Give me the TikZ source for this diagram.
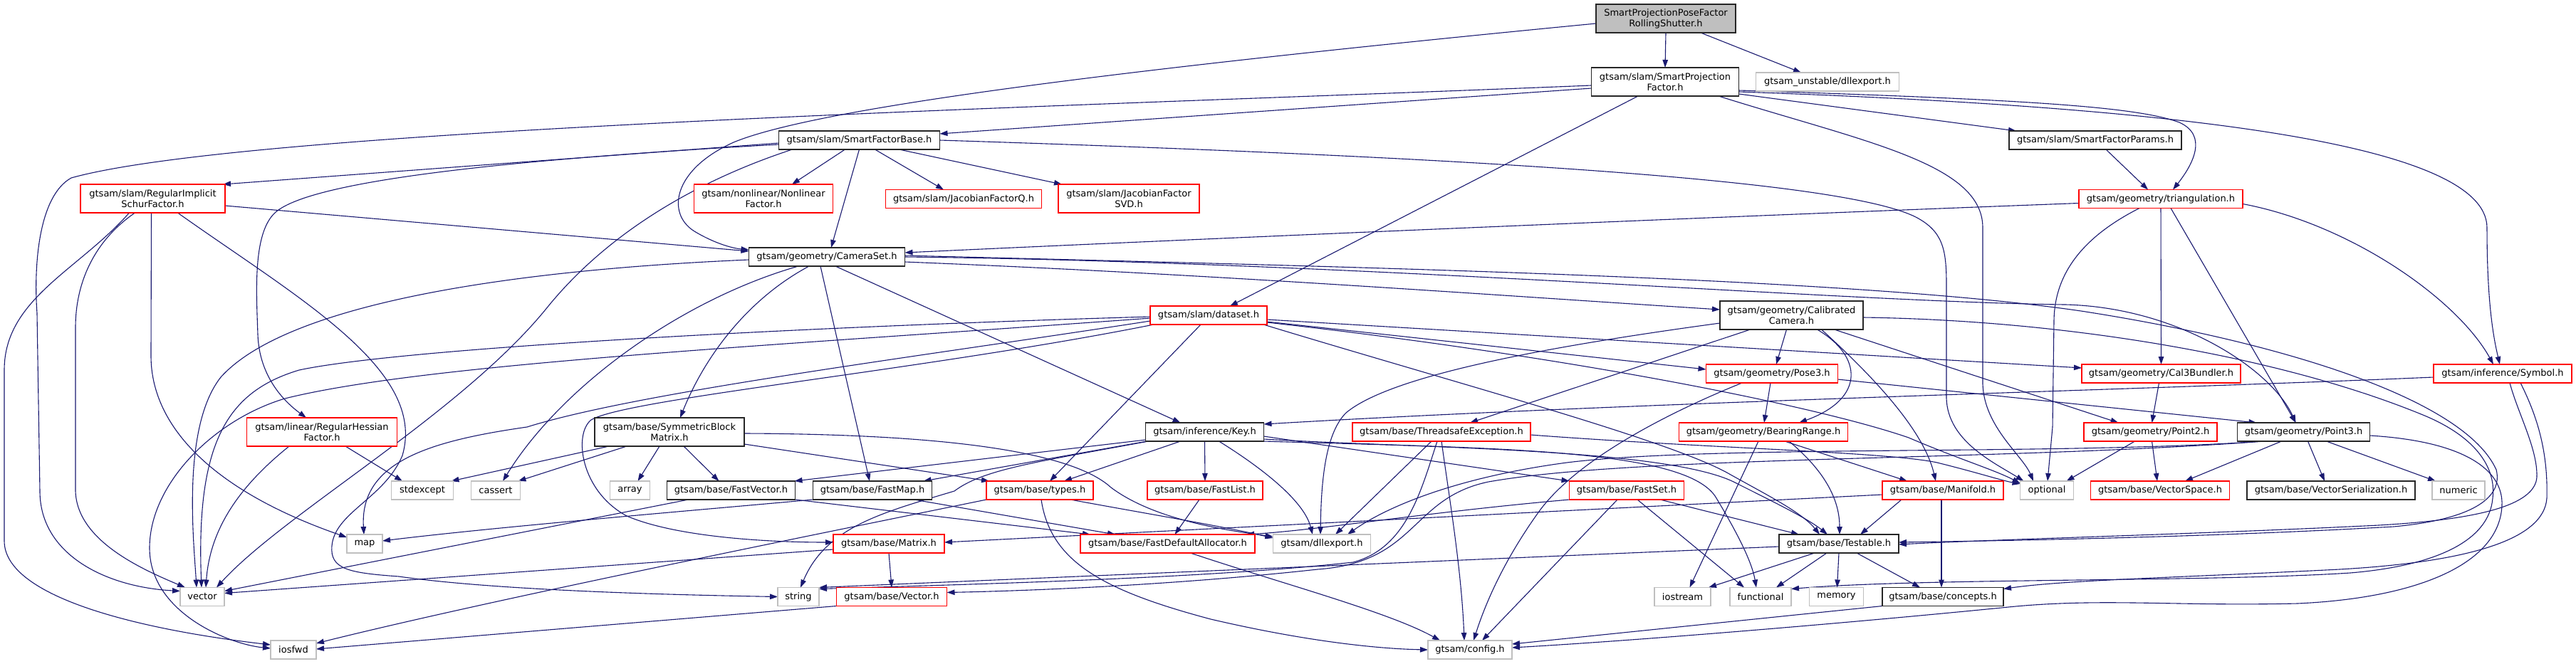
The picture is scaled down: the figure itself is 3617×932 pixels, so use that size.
\documentclass[tikz,border=0pt]{standalone}
\usepackage{fontspec}
\setmainfont{DejaVu Sans}
\usetikzlibrary{arrows.meta}
\definecolor{edgeblue}{HTML}{191970}
\definecolor{nodered}{HTML}{FF0000}
\definecolor{nodegray}{HTML}{BFBFBF}
\definecolor{topfill}{HTML}{BFBFBF}
\pgfdeclarelayer{bg}
\pgfsetlayers{bg,main}
\newcommand{\nodefont}{\fontsize{13pt}{15pt}\selectfont}
\begin{document}
\begin{tikzpicture}[x=1pt,y=-1pt,
  nd/.style={draw, line width=1.2pt, minimum height=26pt, inner xsep=8pt, inner ysep=0pt, outer sep=0pt, fill=white, font=\nodefont, text=black},
  two/.style={minimum height=40pt, align=center},
  nb/.style={nd, draw=black!85},
  nr/.style={nd, draw=nodered},
  ng/.style={nd, draw=nodegray},
  edg/.style={draw=edgeblue, line width=1.1pt, -{Triangle[length=11pt,width=7.5pt]}}]
\useasboundingbox (0,0) rectangle (3617,932);
% nodes
\node[nb,fill=topfill,two,minimum width=196pt] (top) at (2339,26) {SmartProjectionPoseFactor\\RollingShutter.h};
\node[nb,two,minimum width=207pt] (spf) at (2338,115) {gtsam/slam/SmartProjection\\Factor.h};
\node[ng,minimum width=201pt] (udll) at (2566,115) {gtsam\_unstable/dllexport.h};
\node[nb,minimum width=226pt] (sfb) at (1206.5,197) {gtsam/slam/SmartFactorBase.h};
\node[nb,minimum width=242pt] (sfp) at (2942,197) {gtsam/slam/SmartFactorParams.h};
\node[nr,two,minimum width=203pt] (risf) at (214.5,279) {gtsam/slam/RegularImplicit\\SchurFactor.h};
\node[nr,two,minimum width=195pt] (nlf) at (1072,279) {gtsam/nonlinear/Nonlinear\\Factor.h};
\node[nr,minimum width=219pt] (jfq) at (1353,279.5) {gtsam/slam/JacobianFactorQ.h};
\node[nr,two,minimum width=198pt] (jfsvd) at (1585,279) {gtsam/slam/JacobianFactor\\SVD.h};
\node[nr,minimum width=230pt] (tri) at (3034,279.5) {gtsam/geometry/triangulation.h};
\node[nb,minimum width=219pt] (cams) at (1161,361) {gtsam/geometry/CameraSet.h};
\node[nr,minimum width=164pt] (dataset) at (1697,443) {gtsam/slam/dataset.h};
\node[nb,two,minimum width=201pt] (calcam) at (2515.5,443) {gtsam/geometry/Calibrated\\Camera.h};
\node[nr,minimum width=185pt] (pose3) at (2488,525) {gtsam/geometry/Pose3.h};
\node[nr,minimum width=223pt] (cal3) at (3034.5,525) {gtsam/geometry/Cal3Bundler.h};
\node[nr,minimum width=194pt] (symbol) at (3514,525) {gtsam/inference/Symbol.h};
\node[nr,two,minimum width=211pt] (rhf) at (452,607) {gtsam/linear/RegularHessian\\Factor.h};
\node[nb,two,minimum width=210pt] (sbm) at (940,607) {gtsam/base/SymmetricBlock\\Matrix.h};
\node[nb,minimum width=166pt] (key) at (1691.5,607) {gtsam/inference/Key.h};
\node[nr,minimum width=250pt] (tse) at (2024,607) {gtsam/base/ThreadsafeException.h};
\node[nr,minimum width=237pt] (bear) at (2476,607) {gtsam/geometry/BearingRange.h};
\node[nr,minimum width=187pt] (pt2) at (3019.5,607) {gtsam/geometry/Point2.h};
\node[nb,minimum width=186pt] (pt3) at (3234.5,607) {gtsam/geometry/Point3.h};
\node[ng,minimum width=87pt] (stdexcept) at (593,689) {stdexcept};
\node[ng,minimum width=69pt] (cassert) at (696,689) {cassert};
\node[ng,minimum width=56pt] (array) at (884.5,689) {array};
\node[nb,minimum width=180pt] (fvec) at (1026.5,689) {gtsam/base/FastVector.h};
\node[nb,minimum width=167pt] (fmap) at (1225,689) {gtsam/base/FastMap.h};
\node[nr,minimum width=150pt] (types) at (1460,689) {gtsam/base/types.h};
\node[nr,minimum width=162pt] (flist) at (1692,689) {gtsam/base/FastList.h};
\node[nr,minimum width=161pt] (fset) at (2284,689) {gtsam/base/FastSet.h};
\node[nr,minimum width=170pt] (manifold) at (2728,689) {gtsam/base/Manifold.h};
\node[ng,minimum width=75pt] (optional) at (2874,689) {optional};
\node[nr,minimum width=195pt] (vspace) at (3033,689) {gtsam/base/VectorSpace.h};
\node[nb,minimum width=236pt] (vser) at (3273,689) {gtsam/base/VectorSerialization.h};
\node[ng,minimum width=74pt] (numeric) at (3452,689) {numeric};
\node[ng,minimum width=50pt] (map) at (512,764) {map};
\node[nr,minimum width=156pt] (matrix) at (1248,764) {gtsam/base/Matrix.h};
\node[nr,minimum width=245pt] (fda) at (1639.5,764) {gtsam/base/FastDefaultAllocator.h};
\node[ng,minimum width=137pt] (dll) at (1856,764) {gtsam/dllexport.h};
\node[nb,minimum width=168pt] (testable) at (2582,764) {gtsam/base/Testable.h};
\node[ng,minimum width=62pt] (vector) at (284,838.5) {vector};
\node[ng,minimum width=58pt] (string) at (1121,838.5) {string};
\node[nr,minimum width=155pt] (vecH) at (1252,838.5) {gtsam/base/Vector.h};
\node[ng,minimum width=79pt] (iostream) at (2362.5,838.5) {iostream};
\node[ng,minimum width=86pt] (functional) at (2472,838.5) {functional};
\node[ng,minimum width=76pt] (memory) at (2578.5,838.5) {memory};
\node[nb,minimum width=170pt] (concepts) at (2728,838.5) {gtsam/base/concepts.h};
\node[ng,minimum width=64pt] (iosfwd) at (412,913) {iosfwd};
\node[ng,minimum width=118pt] (config) at (2064,913) {gtsam/config.h};
% edges
\begin{pgfonlayer}{bg}
% top
\draw[edg] (top.south) -- (spf.north);
\draw[edg] ([xshift=49pt]top.south) -- ([xshift=-37pt]udll.north);
\draw[edg] ([yshift=-7pt]top.west) .. controls (1600,95) and (1150,150) .. (1030,200) .. controls (945,238) and (935,300) .. (975,325) .. controls (1005,343) and (1030,349) .. ([yshift=10pt]cams.west);
% spf
\draw[edg] ([yshift=-9pt]spf.west) -- ([yshift=9pt]sfb.east);
\draw[edg] ([yshift=-17pt]spf.east) -- ([xshift=10pt]sfp.north west);
\draw[edg] ([yshift=-12pt]spf.east) .. controls (2850,140) and (3000,150) .. (3060,172) .. controls (3100,190) and (3080,230) .. ([xshift=17pt]tri.north);
\draw[edg] ([yshift=-14pt]spf.east) .. controls (3050,150) and (3492,200) .. (3492,320) .. controls (3492,420) and (3500,470) .. ([xshift=-4pt]symbol.north);
\draw[edg] ([xshift=-38pt]spf.south) -- ([xshift=30pt]dataset.north);
\draw[edg] ([xshift=75pt]spf.south) .. controls (2620,200) and (2784,230) .. (2784,320) -- (2784,540) .. controls (2786,600) and (2840,640) .. ([xshift=-19pt]optional.north);
\draw[edg] ([yshift=-5pt]spf.west) .. controls (1500,150) and (350,180) .. (100,250) .. controls (55,275) and (47,370) .. (52,440) -- (56,690) .. controls (56,780) and (150,825) .. ([yshift=8pt]vector.west);
% sfb
\draw[edg] ([xshift=22pt]sfb.south) -- ([xshift=-28pt]jfq.north);
\draw[edg] ([xshift=-20pt]sfb.south) -- ([xshift=40pt]nlf.north);
\draw[edg] ([xshift=56pt]sfb.south) -- ([xshift=-94pt]jfsvd.north);
\draw[edg] ([yshift=-4pt]sfb.west) -- ([xshift=-3pt]risf.north east);
\draw[edg] ([yshift=-6pt]sfb.west) .. controls (700,225) and (430,255) .. (385,300) .. controls (355,330) and (360,410) .. (362,470) .. controls (364,530) and (400,565) .. ([xshift=-22pt]rhf.north);
\draw[edg] (sfb.south) -- ([xshift=6pt]cams.north);
\draw[edg] ([xshift=-94pt]sfb.south) .. controls (990,250) and (860,320) .. (770,430) .. controls (650,580) and (400,720) .. ([xshift=20pt]vector.north);
\draw[edg] (sfb.east) .. controls (2200,225) and (2600,260) .. (2690,305) .. controls (2728,325) and (2733,350) .. (2733,400) -- (2733,560) .. controls (2735,620) and (2800,650) .. ([xshift=5pt]optional.north west);
% sfp
\draw[edg] ([xshift=15pt]sfp.south) -- ([xshift=-18pt]tri.north);
% risf
\draw[edg] ([yshift=-10pt]risf.east) -- ([yshift=8pt]cams.west);
\draw[edg] ([xshift=-33pt]risf.south) .. controls (110,380) and (6,420) .. (6,520) -- (6,760) .. controls (6,840) and (200,885) .. ([yshift=7pt]iosfwd.west);
\draw[edg] ([xshift=-25pt]risf.south) .. controls (130,340) and (106,400) .. (106,460) -- (106,690) .. controls (108,760) and (200,800) .. ([xshift=-24pt]vector.north);
\draw[edg] ([xshift=-2pt]risf.south) -- (212,500) .. controls (212,600) and (300,690) .. ([yshift=9pt]map.west);
\draw[edg] ([xshift=35pt]risf.south) .. controls (420,420) and (600,520) .. (565,640) .. controls (540,700) and (470,720) .. (466,767) .. controls (463,800) and (490,805) .. (560,810) .. controls (700,830) and (950,836) .. (string.west);
% tri
\draw[edg] ([yshift=-6pt]tri.west) .. controls (2400,305) and (1700,335) .. ([yshift=6pt]cams.east);
\draw[edg] ([yshift=-7pt]tri.east) .. controls (3300,315) and (3450,420) .. ([xshift=-13pt]symbol.north);
\draw[edg] ([xshift=-30pt]tri.south) .. controls (2930,330) and (2885,380) .. (2884,450) -- (2882,600) -- ([xshift=1pt]optional.north);
\draw[edg] (tri.south) -- (cal3.north);
\draw[edg] ([xshift=14pt]tri.south) -- ([xshift=-11pt]pt3.north);
% cams
\draw[edg] ([yshift=-7pt]cams.east) .. controls (1700,385) and (2100,415) .. ([yshift=8pt]calcam.west);
\draw[edg] ([xshift=-25pt]cams.south) .. controls (1050,420) and (990,500) .. ([xshift=15pt]sbm.north);
\draw[edg] ([xshift=-9pt]cams.south) -- ([xshift=-4pt]fmap.north);
\draw[edg] ([xshift=12pt]cams.south) -- ([xshift=-34pt]key.north);
\draw[edg] ([yshift=-4pt]cams.west) .. controls (700,380) and (400,430) .. (310,530) .. controls (255,600) and (272,760) .. ([xshift=-8pt]vector.north);
\draw[edg] ([xshift=-40pt]cams.south) .. controls (960,420) and (790,540) .. ([xshift=10pt]cassert.north);
\draw[edg] ([yshift=2pt]cams.east) .. controls (1900,375) and (2600,390) .. (2922,437) .. controls (3200,480) and (3460,560) .. (3505,660) .. controls (3515,700) and (3470,730) .. (3361,740) .. controls (3100,755) and (2800,760) .. ([yshift=2pt]testable.east);
\draw[edg] (cams.east) .. controls (1900,368) and (2600,425) .. (2900,428) .. controls (3060,432) and (3190,520) .. ([xshift=-11pt]pt3.north);
% dataset
\draw[edg] ([yshift=-9pt]dataset.east) -- ([yshift=6pt]pose3.west);
\draw[edg] ([yshift=-6pt]dataset.east) -- ([yshift=8pt]cal3.west);
\draw[edg] ([xshift=-11pt]dataset.south) -- ([xshift=14pt]types.north);
\draw[edg] ([xshift=-5pt]dataset.south east) .. controls (2050,540) and (2350,620) .. (2430,667) .. controls (2480,695) and (2530,720) .. ([xshift=-27pt]testable.north);
\draw[edg] ([yshift=-2pt]dataset.west) .. controls (1100,460) and (560,490) .. (420,520) .. controls (320,550) and (275,620) .. ([xshift=-1pt]vector.north);
\draw[edg] ([yshift=-4pt]dataset.west) .. controls (1100,485) and (600,510) .. (400,560) .. controls (300,590) and (210,680) .. (210,770) .. controls (210,860) and (320,905) .. ([yshift=2pt]iosfwd.west);
\draw[edg] ([yshift=-8pt]dataset.west) .. controls (1300,500) and (900,550) .. (740,600) .. controls (600,620) and (505,650) .. ([xshift=-1pt]map.north);
\draw[edg] ([xshift=5pt]dataset.south west) .. controls (1300,520) and (880,560) .. (830,590) .. controls (805,610) and (815,690) .. (880,725) .. controls (950,755) and (1080,762) .. ([yshift=2pt]matrix.west);
\draw[edg] ([yshift=-10pt]dataset.east) .. controls (2200,500) and (2550,570) .. (2680,615) .. controls (2750,645) and (2800,660) .. ([yshift=-3pt]optional.north west);
% calcam
\draw[edg] ([xshift=-7pt]calcam.south) -- ([xshift=6pt]pose3.north);
\draw[edg] ([xshift=-58pt]calcam.south) -- ([xshift=40pt]tse.north);
\draw[edg] ([xshift=36pt]calcam.south) .. controls (2615,500) and (2620,560) .. ([xshift=50pt]bear.north);
\draw[edg] ([xshift=60pt]calcam.south) -- ([xshift=-45pt]pt2.north);
\draw[edg] ([xshift=42pt]calcam.south) .. controls (2620,520) and (2700,600) .. ([xshift=-10pt]manifold.north);
\draw[edg] ([yshift=-11pt]calcam.west) .. controls (2150,490) and (1950,530) .. (1890,580) .. controls (1860,610) and (1855,680) .. ([xshift=-2pt]dll.north);
\draw[edg] ([yshift=-3pt]calcam.east) .. controls (2900,450) and (3200,500) .. (3402,583) .. controls (3480,615) and (3505,660) .. (3500,700) .. controls (3495,760) and (3420,795) .. (3300,805) .. controls (3100,818) and (2700,812) .. ([yshift=11pt]functional.east);
% pose3
\draw[edg] ([xshift=-2pt]pose3.south) -- ([xshift=1pt]bear.north);
\draw[edg] ([yshift=-8pt]pose3.east) -- ([xshift=-66pt]pt3.north);
\draw[edg] ([xshift=-42pt]pose3.south) .. controls (2330,585) and (2210,650) .. (2160,720) .. controls (2110,790) and (2085,850) .. ([xshift=5pt]config.north);
% cal3
\draw[edg] ([xshift=-3pt]cal3.south) -- ([xshift=2pt]pt2.north);
% symbol
\draw[edg] ([yshift=-5pt]symbol.west) .. controls (3000,548) and (2300,565) .. ([yshift=11pt]key.east);
\draw[edg] ([xshift=10pt]symbol.south) .. controls (3535,580) and (3563,630) .. (3562,670) .. controls (3560,710) and (3480,730) .. (3340,738) .. controls (3100,750) and (2800,758) .. ([yshift=-1pt]testable.east);
\draw[edg] ([xshift=25pt]symbol.south) .. controls (3560,580) and (3578,630) .. (3576,700) .. controls (3572,760) and (3460,790) .. (3285,800) .. controls (3050,812) and (2900,815) .. ([yshift=11pt]concepts.east);
% rhf
\draw[edg] ([xshift=-46pt]rhf.south) .. controls (340,680) and (295,740) .. ([xshift=5pt]vector.north);
\draw[edg] ([xshift=33pt]rhf.south) -- ([xshift=-28pt]stdexcept.north);
% sbm
\draw[edg] ([xshift=20pt]sbm.south west) -- ([xshift=-3pt]stdexcept.north east);
\draw[edg] ([xshift=45pt]sbm.south west) -- ([xshift=-3pt]cassert.north east);
\draw[edg] ([xshift=-14pt]sbm.south) -- ([xshift=11pt]array.north);
\draw[edg] ([xshift=20pt]sbm.south) -- ([xshift=-17pt]fvec.north);
\draw[edg] ([yshift=-17pt]sbm.east) -- ([xshift=4pt]types.north west);
\draw[edg] ([yshift=-2pt]sbm.east) .. controls (1300,610) and (1500,630) .. (1560,685) .. controls (1620,730) and (1720,745) .. ([yshift=10pt]dll.west);
% key
\draw[edg] ([yshift=2pt]key.south west) -- ([xshift=-1pt]fvec.north east);
\draw[edg] ([xshift=2pt]key.south west) -- ([xshift=-12pt]fmap.north east);
\draw[edg] ([xshift=4pt]key.south west) .. controls (1450,650) and (1380,660) .. (1340,690) .. controls (1240,720) and (1160,740) .. ([xshift=3pt]string.north);
\draw[edg] ([xshift=-34pt]key.south) -- ([xshift=34pt]types.north);
\draw[edg] (key.south) -- (flist.north);
\draw[edg] ([xshift=20pt]key.south) .. controls (1760,650) and (1830,700) .. ([xshift=-13pt]dll.north);
\draw[edg] ([yshift=-6pt]key.east) -- (fset.north west);
\draw[edg] ([yshift=-10pt]key.east) .. controls (2000,630) and (2350,630) .. (2440,680) .. controls (2500,710) and (2540,730) .. ([xshift=-16pt]testable.north);
\draw[edg] (key.south east) .. controls (2100,630) and (2370,630) .. (2410,700) .. controls (2440,750) and (2460,790) .. ([xshift=-6pt]functional.north);
% tse
\draw[edg] (tse.south) .. controls (2035,700) and (2052,800) .. ([xshift=-8pt]config.north);
\draw[edg] ([xshift=-14pt]tse.south) -- ([xshift=19pt]dll.north);
\draw[edg] ([xshift=-6pt]tse.south) .. controls (1995,690) and (1975,770) .. (1900,790) .. controls (1700,812) and (1400,820) .. ([yshift=11pt]string.east);
\draw[edg] ([yshift=-4pt]tse.east) .. controls (2400,630) and (2650,635) .. (2720,650) .. controls (2780,665) and (2810,675) .. ([yshift=9pt]optional.west);
% bear
\draw[edg] ([xshift=30pt]bear.south) -- ([xshift=-50pt]manifold.north);
\draw[edg] ([xshift=36pt]bear.south) .. controls (2560,660) and (2583,700) .. ([xshift=1pt]testable.north);
\draw[edg] ([xshift=-7pt]bear.south) -- ([xshift=10pt]iostream.north);
% pt2
\draw[edg] ([xshift=-22pt]pt2.south) -- ([xshift=-10pt]optional.north east);
\draw[edg] ([xshift=2pt]pt2.south) -- ([xshift=-4pt]vspace.north);
% pt3
\draw[edg] ([xshift=-31pt]pt3.south) -- ([xshift=35pt]vspace.north);
\draw[edg] ([xshift=6pt]pt3.south) -- ([xshift=-9pt]vser.north);
\draw[edg] ([xshift=32pt]pt3.south) -- ([xshift=-32pt]numeric.north);
\draw[edg] ([xshift=-58pt]pt3.south) .. controls (2900,640) and (2400,625) .. (2200,650) .. controls (2050,670) and (1950,710) .. ([xshift=36pt]dll.north);
\draw[edg] ([xshift=-55pt]pt3.south) .. controls (2800,648) and (2300,640) .. (2090,677) .. controls (1980,700) and (1990,790) .. (1850,800) .. controls (1650,822) and (1450,830) .. ([yshift=6pt]vecH.east);
\draw[edg] ([yshift=-5pt]pt3.east) .. controls (3460,620) and (3515,660) .. (3513,710) .. controls (3510,790) and (3400,840) .. (3226,848) .. controls (3050,852) and (2950,840) .. (2820,853) .. controls (2600,875) and (2300,900) .. ([yshift=3pt]config.east);
% types
\draw[edg] ([xshift=43pt]types.south) .. controls (1600,720) and (1720,740) .. ([yshift=8pt]dll.west);
\draw[edg] ([xshift=2pt]types.south) .. controls (1475,790) and (1550,830) .. (1700,870) .. controls (1850,905) and (1950,912) .. (config.west);
\draw[edg] (types.south west) .. controls (1200,740) and (700,840) .. ([yshift=9pt]iosfwd.east);
% fvec, fmap, flist, fset
\draw[edg] ([xshift=-60pt]fvec.south) -- ([yshift=8pt]vector.east);
\draw[edg] (fvec.south east) -- ([xshift=14pt]fda.north west);
\draw[edg] (fmap.south west) .. controls (1000,715) and (700,740) .. ([yshift=4pt]map.east);
\draw[edg] ([xshift=-25pt]fmap.south east) -- ([xshift=49pt]fda.north west);
\draw[edg] ([xshift=-8pt]flist.south) -- ([xshift=10pt]fda.north);
\draw[edg] (fset.south west) .. controls (2000,720) and (1850,745) .. ([xshift=-12pt]fda.north east);
\draw[edg] ([xshift=47pt]fset.south) -- ([xshift=-56pt]testable.north);
\draw[edg] ([xshift=15pt]fset.south) -- ([xshift=-23pt]functional.north);
\draw[edg] ([xshift=-13pt]fset.south) -- ([xshift=17pt]config.north);
% manifold
\draw[edg] ([yshift=-6pt]manifold.west) -- ([yshift=2pt]matrix.east);
\draw[edg] ([xshift=-58pt]manifold.south) -- ([xshift=30pt]testable.north);
\draw[edg] ([xshift=-2pt]manifold.south) -- ([xshift=-2pt]concepts.north);
% matrix, fda
\draw[edg] (matrix.south) -- (vecH.north);
\draw[edg] ([yshift=-8pt]matrix.west) -- ([yshift=5pt]vector.east);
\draw[edg] ([xshift=32pt]fda.south) .. controls (1800,820) and (1950,860) .. ([xshift=-42pt]config.north);
% testable
\draw[edg] ([yshift=-4pt]testable.west) -- ([yshift=13pt]string.east);
\draw[edg] ([xshift=-34pt]testable.south) -- ([xshift=-3pt]iostream.north east);
\draw[edg] ([xshift=-17pt]testable.south) -- ([xshift=22pt]functional.north);
\draw[edg] (testable.south) -- ([xshift=1pt]memory.north);
\draw[edg] ([xshift=25pt]testable.south) -- ([xshift=-32pt]concepts.north);
% vecH, concepts
\draw[edg] (vecH.south west) -- ([yshift=1pt]iosfwd.east);
\draw[edg] (concepts.south west) -- ([yshift=8pt]config.east);
\end{pgfonlayer}
\end{tikzpicture}
\end{document}
